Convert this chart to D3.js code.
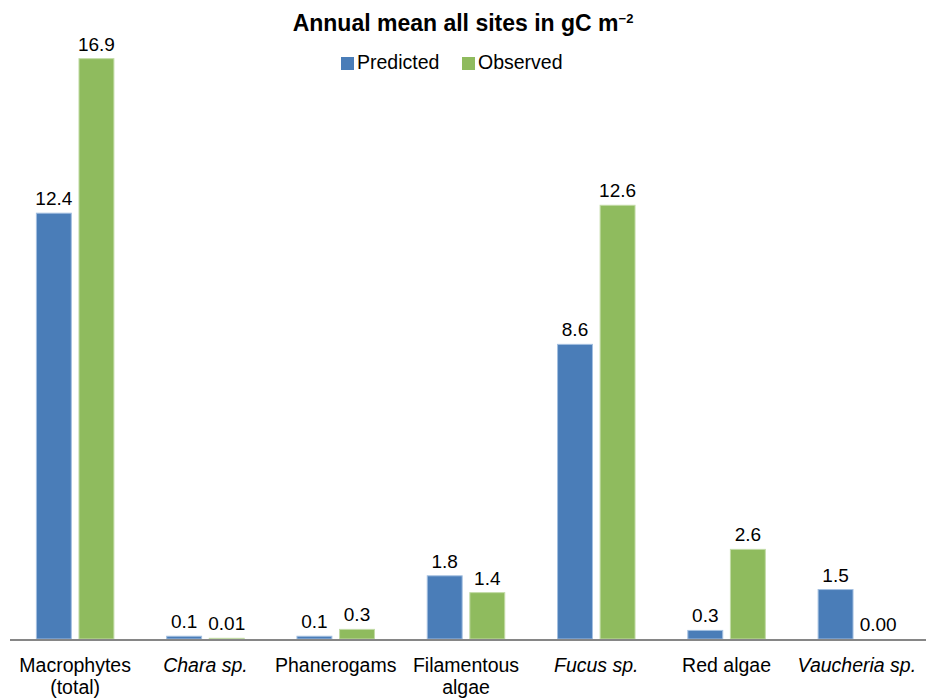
<!DOCTYPE html>
<html>
<head>
<meta charset="utf-8">
<script src="https://cdn.jsdelivr.net/npm/d3@7"></script>
<style>
  body { margin: 0; background: #fff; }
  text { font-family: "Liberation Sans", Arial, sans-serif; fill: #000; }
</style>
</head>
<body>
<div id="chart"></div>
<script>
// dados
var categories = ["Macrophytes (total)", "Chara sp.", "Phanerogams", "Filamentous algae",
                  "Fucus sp.", "Red algae", "Vaucheria sp."];
var catLines = [["Macrophytes", "(total)"], ["Chara sp."], ["Phanerogams"], ["Filamentous", "algae"],
                ["Fucus sp."], ["Red algae"], ["Vaucheria sp."]];
var italicCats = ["Chara sp.", "Fucus sp.", "Vaucheria sp."];
var seriesNames = ["Predicted", "Observed"];
var predicted = [12.4, 0.08, 0.08, 1.84, 8.58, 0.25, 1.44];
var observed  = [16.9, 0.02, 0.28, 1.35, 12.63, 2.61, 0.0];
var predictedLabels = ["12.4", "0.1", "0.1", "1.8", "8.6", "0.3", "1.5"];
var observedLabels  = ["16.9", "0.01", "0.3", "1.4", "12.6", "2.6", "0.00"];
var colors = ["#4a7db8", "#8fbb5e"];
var strokes = ["#a3bfe0", "#c2dba6"];

var width = 926, height = 699;
var baseY = 639;

var svg = d3.select("#chart").append("svg")
            .attr("width", width)
            .attr("height", height);

var x0 = d3.scaleBand().domain(categories).range([10, 922]).padding(0);
var x1 = d3.scaleBand().domain(seriesNames).range([0, x0.bandwidth()])
           .paddingInner(0.18).paddingOuter(0.62);
var y = d3.scaleLinear().domain([0, 17]).range([baseY, baseY - 17 * 34.34]);

var rows = categories.map(function(c, i) {
  return [
    { cat: c, s: 0, v: predicted[i], label: predictedLabels[i] },
    { cat: c, s: 1, v: observed[i], label: observedLabels[i] }
  ];
});

var groups = svg.selectAll("g.cat")
  .data(rows)
  .enter().append("g")
  .attr("class", "cat")
  .attr("transform", function(d) { return "translate(" + x0(d[0].cat) + ",0)"; });

groups.selectAll("rect")
  .data(function(d) { return d; })
  .enter().append("rect")
  .attr("x", function(d) { return x1(seriesNames[d.s]); })
  .attr("y", function(d) { return y(d.v); })
  .attr("width", x1.bandwidth())
  .attr("height", function(d) { return baseY - y(d.v); })
  .attr("fill", function(d) { return colors[d.s]; })
  .attr("stroke", function(d) { return d.v > 0 ? strokes[d.s] : "none"; })
  .attr("stroke-width", 1);

// rotulos de valor
groups.selectAll("text.val")
  .data(function(d) { return d; })
  .enter().append("text")
  .attr("class", "val")
  .attr("x", function(d) { return x1(seriesNames[d.s]) + x1.bandwidth() / 2; })
  .attr("y", function(d) { return y(d.v) - 8; })
  .attr("text-anchor", "middle")
  .style("font-size", "19px")
  .text(function(d) { return d.label; });

// eixo x
svg.append("line")
   .attr("x1", x0.range()[0]).attr("x2", x0.range()[1] + 4)
   .attr("y1", baseY + 1).attr("y2", baseY + 1)
   .attr("stroke", "#868686")
   .attr("stroke-width", 2);

categories.forEach(function(c, i) {
  var t = svg.append("text")
    .attr("x", x0(c) + x0.bandwidth() / 2)
    .attr("y", 672)
    .attr("text-anchor", "middle")
    .style("font-size", "19.5px")
    .style("font-style", italicCats.indexOf(c) >= 0 ? "italic" : "normal");
  catLines[i].forEach(function(line, j) {
    t.append("tspan")
     .attr("x", x0(c) + x0.bandwidth() / 2)
     .attr("dy", j === 0 ? 0 : 22)
     .text(line);
  });
});

// titulo
var title = svg.append("text")
   .attr("x", 463)
   .attr("y", 31)
   .attr("text-anchor", "middle")
   .style("font-size", "23px")
   .style("font-weight", "bold");
title.append("tspan").text("Annual mean all sites in gC m");
title.append("tspan").attr("dy", -8).style("font-size", "13px").text("\u22122");

// legenda
var legendX = [341, 462];
seriesNames.forEach(function(s, i) {
  svg.append("rect")
     .attr("x", legendX[i]).attr("y", 57)
     .attr("width", 13).attr("height", 13)
     .attr("fill", colors[i]);
  svg.append("text")
     .attr("x", legendX[i] + 16)
     .attr("y", 69)
     .style("font-size", "19.5px")
     .text(s);
});
</script>
</body>
</html>
